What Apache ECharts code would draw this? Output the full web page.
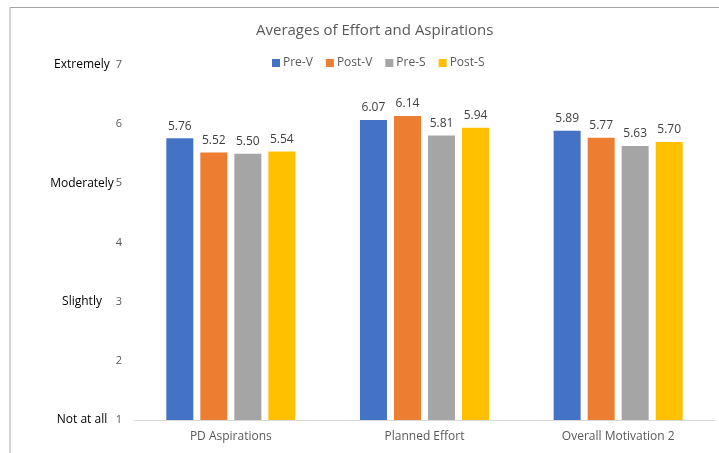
<!DOCTYPE html>
<html><head><meta charset="utf-8">
<script src="https://cdn.jsdelivr.net/npm/echarts@6/dist/echarts.min.js"></script>
<style>html,body{margin:0;padding:0;background:#fff}#c{width:719px;height:453px}</style>
</head><body><div id="c"></div>
<script>
const categories = ['PD Aspirations', 'Planned Effort', 'Overall Motivation 2'];
const seriesNames = ['Pre-V', 'Post-V', 'Pre-S', 'Post-S'];
const preV = [5.76, 6.07, 5.89];
const postV = [5.52, 6.14, 5.77];
const preS = [5.50, 5.81, 5.63];
const postS = [5.54, 5.94, 5.70];
const scaleWords = {1: 'Not at all', 3: 'Slightly', 5: 'Moderately', 7: 'Extremely'};
const colors = ['#4472C4', '#ED7D31', '#A5A5A5', '#FFC000'];
const font = '"Open Sans", "Liberation Sans", sans-serif';

const chart = echarts.init(document.getElementById('c'));
const values = [preV, postV, preS, postS];
chart.setOption({
  animation: false,
  textStyle: {fontFamily: font},
  title: {text: 'Averages of Effort and Aspirations', left: 251, top: 18,
    textStyle: {fontFamily: font, fontSize: 15, fontWeight: 'normal', color: '#595959'}},
  legend: {top: 52, left: 267, itemWidth: 8, itemHeight: 8, itemGap: 13,
    icon: 'rect', textStyle: {fontFamily: font, fontSize: 12, color: '#595959', padding: [0, 0, 0, -2]}},
  grid: {left: 134, right: 4, top: 65, bottom: 33},
  graphic: [{type: 'polyline', shape: {points: [[10, 460], [10, 7.5], [725, 7.5]]},
    style: {stroke: '#a6a6a6', lineWidth: 1, fill: null}, silent: true}],
  xAxis: {type: 'category', data: categories,
    axisLine: {lineStyle: {color: '#d9d9d9'}}, axisTick: {show: false},
    axisLabel: {margin: 11, fontSize: 12, color: '#595959', fontFamily: font}},
  yAxis: [
    {type: 'value', min: 1, max: 7, interval: 1,
     axisLine: {show: false}, axisTick: {show: false}, splitLine: {show: false},
     axisLabel: {margin: 12, fontSize: 11, color: '#595959', fontFamily: font}},
    {type: 'value', min: 1, max: 7, interval: 1, position: 'left',
     axisLine: {show: false}, axisTick: {show: false}, splitLine: {show: false},
     axisLabel: {margin: 52, align: 'center', fontSize: 12, color: '#000', fontFamily: font,
       formatter: v => scaleWords[v] || ''}}
  ],
  series: seriesNames.map((n, i) => ({
    name: n, type: 'bar', data: values[i], barWidth: 27, barGap: '26%',
    itemStyle: {color: colors[i]},
    label: {show: true, position: 'top', distance: 6, fontSize: 12, color: '#404040',
      fontFamily: font, formatter: p => p.value.toFixed(2)}
  }))
});
</script></body></html>
